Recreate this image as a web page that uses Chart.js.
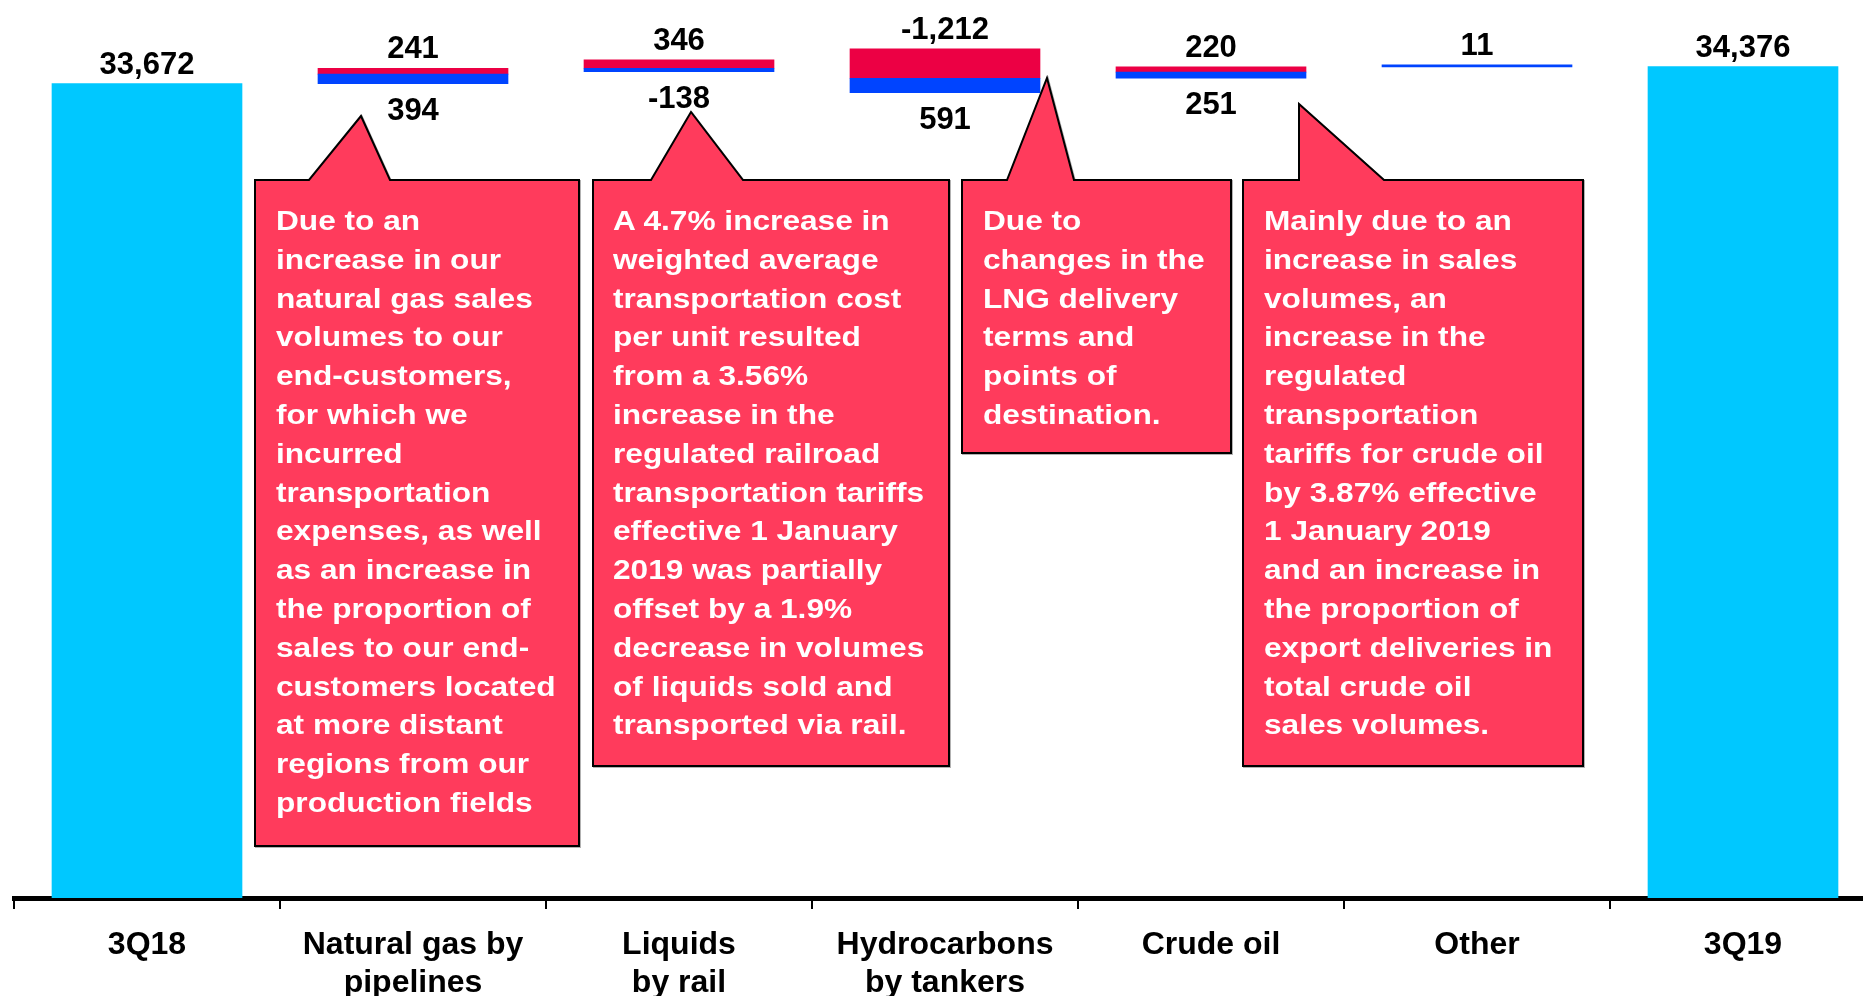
<!DOCTYPE html>
<html>
<head>
<meta charset="utf-8">
<script src="https://cdn.jsdelivr.net/npm/chart.js@4.4.1/dist/chart.umd.min.js"></script>
<style>
  html, body { margin: 0; padding: 0; background: #fff; overflow: hidden; }
  #wrap { position: relative; width: 1876px; height: 996px; }
  #chart { position: absolute; left: 0; top: 0; }
  #callouts { position: absolute; left: 0; top: 0; pointer-events: none; }
  .note {
    position: absolute;
    color: #fff;
    font-family: "Liberation Sans", Arial, sans-serif;
    font-weight: bold;
    font-size: 28px;
    line-height: 38.8px;
    white-space: nowrap;
    transform: scaleX(1.13);
    transform-origin: 0 0;
  }
</style>
</head>
<body>
<div id="wrap">
  <canvas id="chart" width="1876" height="996"></canvas>
  <svg id="callouts" width="1876" height="996">
    <g fill="#FF3B5C" stroke="#000" stroke-width="2" stroke-linejoin="miter" style="filter: drop-shadow(1.5px 1.5px 0 rgba(0,0,0,0.3))">
      <polygon points="255,180 309,180 361,116 390,180 579,180 579,846 255,846"/>
      <polygon points="593,180 651,180 691,112 743,180 949,180 949,766 593,766"/>
      <polygon points="962,180 1007,180 1047,78 1074,180 1231,180 1231,453 962,453"/>
      <polygon points="1243,180 1299,180 1299,104 1384,180 1583,180 1583,766 1243,766"/>
    </g>
  </svg>
  <div class="note" style="left:276px; top:202px;">Due to an<br>increase in our<br>natural gas sales<br>volumes to our<br>end-customers,<br>for which we<br>incurred<br>transportation<br>expenses, as well<br>as an increase in<br>the proportion of<br>sales to our end-<br>customers located<br>at more distant<br>regions from our<br>production fields</div>
  <div class="note" style="left:613px; top:202px;">A 4.7% increase in<br>weighted average<br>transportation cost<br>per unit resulted<br>from a 3.56%<br>increase in the<br>regulated railroad<br>transportation tariffs<br>effective 1 January<br>2019 was partially<br>offset by a 1.9%<br>decrease in volumes<br>of liquids sold and<br>transported via rail.</div>
  <div class="note" style="left:983px; top:202px;">Due to<br>changes in the<br>LNG delivery<br>terms and<br>points of<br>destination.</div>
  <div class="note" style="left:1264px; top:202px;">Mainly due to an<br>increase in sales<br>volumes, an<br>increase in the<br>regulated<br>transportation<br>tariffs for crude oil<br>by 3.87% effective<br>1 January 2019<br>and an increase in<br>the proportion of<br>export deliveries in<br>total crude oil<br>sales volumes.</div>
</div>

<script>
// categories on the x axis (multi-line labels)
const categories = [
    ['3Q18'],
    ['Natural gas by', 'pipelines'],
    ['Liquids', 'by rail'],
    ['Hydrocarbons', 'by tankers'],
    ['Crude oil'],
    ['Other'],
    ['3Q19']
];

// totals at both ends
const totalValues = [33672, null, null, null, null, null, 34376];

// the two components of each step (red is drawn on top, blue underneath)
const redValues  = [null, 241, 346, -1212, 220, null, null];
const blueValues = [null, 394, -138, 591, 251, 11, null];

// build floating ranges for the waterfall steps
const blueBars = [];
const redBars = [];
let level = totalValues[0];
for (let i = 0; i < categories.length; i++) {
    const r = redValues[i];
    const b = blueValues[i];
    if (r === null && b === null) {
        blueBars.push(null);
        redBars.push(null);
        continue;
    }
    const neg = Math.max(0, -(r || 0)) + Math.max(0, -(b || 0));
    const base = level - neg;
    const blueTop = base + Math.abs(b || 0);
    blueBars.push(b === null ? null : [base, blueTop]);
    redBars.push(r === null ? null : [blueTop, blueTop + Math.abs(r)]);
    level += (r || 0) + (b || 0);
}

const fontFamily = '"Liberation Sans", Arial, Helvetica, sans-serif';

function fmt(v) {
    return v.toLocaleString('en-US');
}

// draws the numbers above / below the bars
const valueLabels = {
    id: 'valueLabels',
    afterDatasetsDraw(chart) {
        const ctx = chart.ctx;
        ctx.save();
        ctx.font = 'bold 31px ' + fontFamily;
        ctx.fillStyle = '#000';
        ctx.textAlign = 'center';
        ctx.textBaseline = 'alphabetic';
        chart.data.datasets.forEach((ds, di) => {
            const meta = chart.getDatasetMeta(di);
            meta.data.forEach((bar, i) => {
                const v = ds.labelValues[i];
                if (v === null || v === undefined) return;
                const top = Math.min(bar.y, bar.base);
                const bottom = Math.max(bar.y, bar.base);
                let below = ds.labelSide === 'below';
                if (below && redValues[i] === null) below = false;
                const y = below ? bottom + 36 : top - 10;
                ctx.fillText(fmt(v), bar.x, y);
            });
        });
        ctx.restore();
    }
};

const ctx = document.getElementById('chart').getContext('2d');
new Chart(ctx, {
    type: 'bar',
    data: {
        labels: categories,
        datasets: [
            {
                label: 'Total',
                data: totalValues,
                labelValues: totalValues,
                labelSide: 'above',
                backgroundColor: '#00C8FF',
                grouped: false,
                barThickness: 190
            },
            {
                label: 'Blue',
                data: blueBars,
                labelValues: blueValues,
                labelSide: 'below',
                backgroundColor: '#0044FF',
                grouped: false,
                barThickness: 190,
                minBarLength: 2
            },
            {
                label: 'Red',
                data: redBars,
                labelValues: redValues,
                labelSide: 'above',
                backgroundColor: '#EC0044',
                grouped: false,
                barThickness: 190
            }
        ]
    },
    options: {
        responsive: false,
        animation: false,
        layout: { padding: { left: 14, right: 0, top: 0, bottom: 0 } },
        plugins: {
            legend: { display: false },
            tooltip: { enabled: false }
        },
        scales: {
            x: {
                z: 1,
                grid: {
                    display: true,
                    drawOnChartArea: false,
                    drawTicks: true,
                    tickLength: 11,
                    color: '#000',
                    lineWidth: 2,
                    offset: true
                },
                border: { display: true, color: '#000', width: 5 },
                ticks: {
                    color: '#000',
                    font: { family: fontFamily, size: 32, weight: 'bold', lineHeight: 1.19 },
                    padding: 17,
                    maxRotation: 0,
                    autoSkip: false
                },
                afterFit: function(scale) {
                    scale.height = 98;
                }
            },
            y: {
                display: false,
                min: 0,
                max: 37130
            }
        }
    },
    plugins: [valueLabels]
});
</script>
</body>
</html>
